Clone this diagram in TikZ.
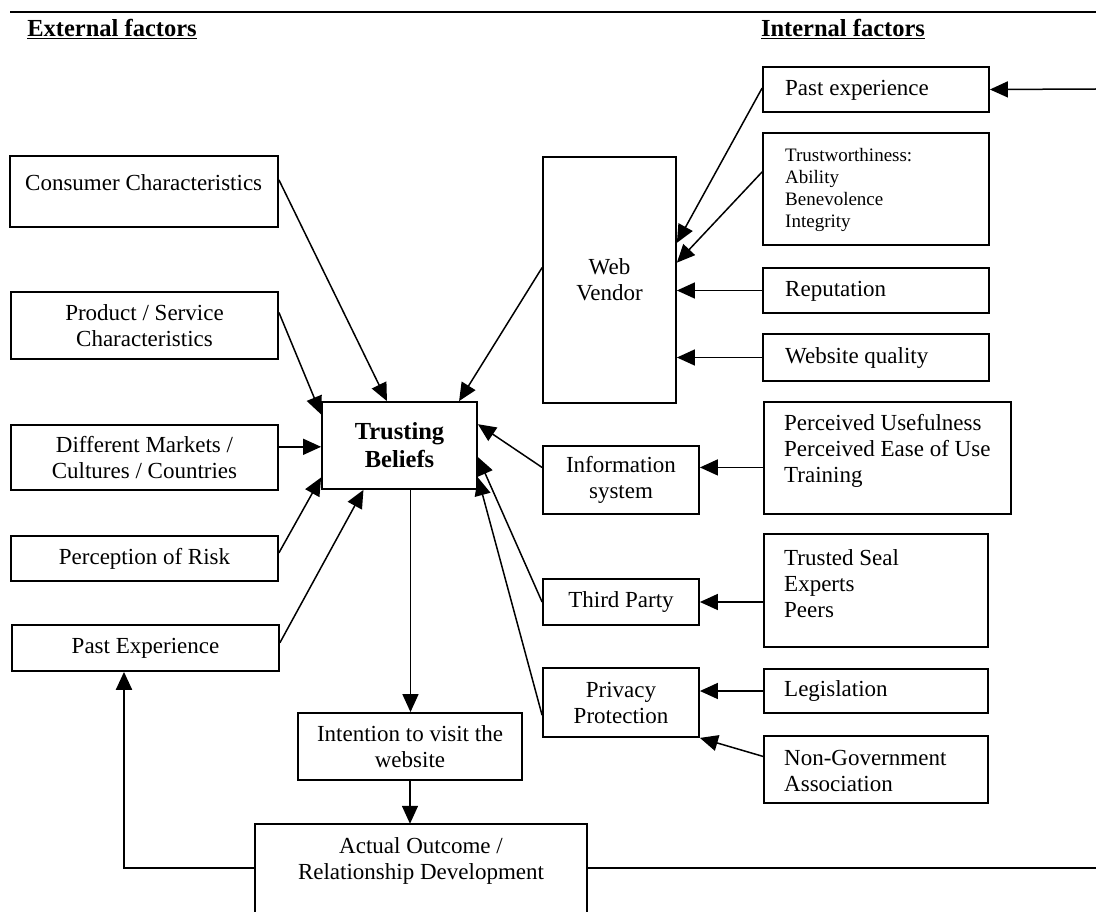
\documentclass[tikz,border=0pt]{standalone}
\usepackage{fontspec}
\setmainfont{Liberation Serif}
\usetikzlibrary{arrows.meta,calc}
\newcommand{\nf}{\fontsize{23}{26}\selectfont}
\newcommand{\smallf}{\fontsize{19}{22}\selectfont}
\newcommand{\bigf}{\fontsize{24.5}{28}\selectfont}
\newcommand{\mybox}[6]{\node[box, minimum width={#4-#2}, minimum height={#5-#3}] (#1) at ({(#2+#4)/2},{(#3+#5)/2}) {#6};}
\begin{document}
\begin{tikzpicture}[x=1pt,y=-1pt,
  box/.style={draw, line width=1.8pt, inner sep=0pt, font=\nf, align=center},
  txt/.style={inner sep=0pt, font=\nf, align=left, anchor=west},
  conn/.style={line width=1.5pt, -{Triangle[length=18pt,width=16pt]}},
  heavy/.style={line width=2.2pt},
  head/.style={inner sep=0pt, font=\bigf\bfseries}]
\useasboundingbox (0,0) rectangle (1096,912);

% rules and headings
\coordinate (tl) at (10,12);
\coordinate (tr) at (1096,12);
\draw[line width=2.4pt] (tl) -- (tr);
\node[head] (ext) at (112,29) {\underline{External factors}};
\node[head] (int) at (843,29) {\underline{Internal factors}};

% external factors
\mybox{cons}{10}{156}{278}{227}{}
\node[txt] (cons-t) at (25,183) {Consumer Characteristics};
\mybox{prod}{11}{292}{278}{359}{Product / Service\\Characteristics}
\mybox{mark}{11}{425}{278}{490}{Different Markets /\\Cultures / Countries}
\mybox{risk}{11}{536}{278}{581}{Perception of Risk}
\mybox{pexp}{12}{625}{279}{671}{Past Experience}

% centre
\node[box, minimum width=155, minimum height=87, font=\bigf] (trust) at (399.5,445.5) {\textbf{Trusting}\\\textbf{Beliefs}};
\mybox{intent}{298}{713}{522}{780}{Intention to visit the\\website}
\node[minimum width=332, minimum height=88, inner sep=0pt] (actual) at (421,868) {};
\draw[line width=1.8pt] (actual.south west) -- (actual.north west) -- (actual.north east) -- (actual.south east);
\node[inner sep=0pt, font=\nf, align=center] (actual-t) at (421,861) {Actual Outcome /\\Relationship Development};

% internal factors
\mybox{wv}{543}{157}{676}{403}{Web\\Vendor}
\mybox{pe2}{763}{67}{989}{112}{}
\node[txt] (pe2-t) at (785,90) {Past experience};
\mybox{tw}{763}{133}{989}{245}{}
\node[txt, font=\smallf] (tw-t) at (785,190) {Trustworthiness:\\Ability\\Benevolence\\Integrity};
\mybox{rep}{763}{268}{989}{313}{}
\node[txt] (rep-t) at (785,291) {Reputation};
\mybox{wq}{763}{334}{989}{381}{}
\node[txt] (wq-t) at (785,358) {Website quality};

\mybox{info}{543}{446}{699}{514}{Information\\system}
\mybox{perc}{764}{402}{1011}{514}{}
\node[txt] (perc-t) at (784,451) {Perceived Usefulness\\Perceived Ease of Use\\Training};
\mybox{third}{543}{579}{699}{625}{Third Party}
\mybox{seal}{764}{534}{988}{647}{}
\node[txt] (seal-t) at (784,584) {Trusted Seal\\Experts\\Peers};
\mybox{priv}{543}{668}{699}{737}{Privacy\\Protection}
\mybox{leg}{764}{669}{988}{713}{}
\node[txt] (leg-t) at (784,691) {Legislation};
\mybox{nga}{764}{736}{988}{803}{}
\node[txt] (nga-t) at (784,771) {Non-Government\\Association};

% connectors into Trusting Beliefs
\draw[conn] ($(cons.north east)!0.34!(cons.south east)$) -- ($(trust.north west)!0.42!(trust.north east)$);
\draw[conn] ($(wv.north west)!0.45!(wv.south west)$) -- ($(trust.north west)!0.88!(trust.north east)$);
\draw[conn] ($(prod.north east)!0.31!(prod.south east)$) -- ($(trust.north west)!0.15!(trust.south west)$);
\coordinate (mk) at ($(mark.north east)!0.34!(mark.south east)$);
\draw[conn] (mk) -- (mk -| trust.west);
\draw[conn] ($(risk.north east)!0.38!(risk.south east)$) -- ($(trust.north west)!0.86!(trust.south west)$);
\draw[conn] ($(pexp.north east)!0.39!(pexp.south east)$) -- ($(trust.south west)!0.27!(trust.south east)$);
\draw[conn] ($(info.north west)!0.32!(info.south west)$) -- ($(trust.north east)!0.26!(trust.south east)$);
\draw[conn] (third.west) -- ($(trust.north east)!0.63!(trust.south east)$);
\draw[conn] ($(priv.north west)!0.68!(priv.south west)$) -- ($(trust.north east)!0.86!(trust.south east)$);

% connectors into Web Vendor
\draw[conn] ($(pe2.north west)!0.47!(pe2.south west)$) -- ($(wv.north east)!0.35!(wv.south east)$);
\draw[conn] ($(tw.north west)!0.35!(tw.south west)$) -- ($(wv.north east)!0.43!(wv.south east)$);
\draw[conn] (rep.west) -- (rep.west -| wv.east);
\draw[conn] (wq.west) -- (wq.west -| wv.east);

% other internal connectors
\coordinate (ip) at ($(info.north east)!0.32!(info.south east)$);
\draw[conn] (perc.west |- ip) -- (ip);
\draw[conn] (seal.west |- third.east) -- (third.east);
\draw[conn] (leg.west) -- (leg.west -| priv.east);
\draw[conn] ($(nga.north west)!0.31!(nga.south west)$) -- (priv.south east);

% outcome chain
\coordinate (tb) at ($(trust.south west)!0.57!(trust.south east)$);
\draw[conn] (tb) -- (tb |- intent.north);
\draw[conn] (intent.south) -- (intent.south |- actual.north);
\draw[conn, line width=2.2pt] (actual.west) -| ($(pexp.south west)!0.42!(pexp.south east)$);
\coordinate (rb) at (1096,868);
\draw[heavy] (actual.east) -- (rb);
\coordinate (rt) at (1096,89);
\draw[conn] (rt) -- (pe2.east);
\end{tikzpicture}
\end{document}
